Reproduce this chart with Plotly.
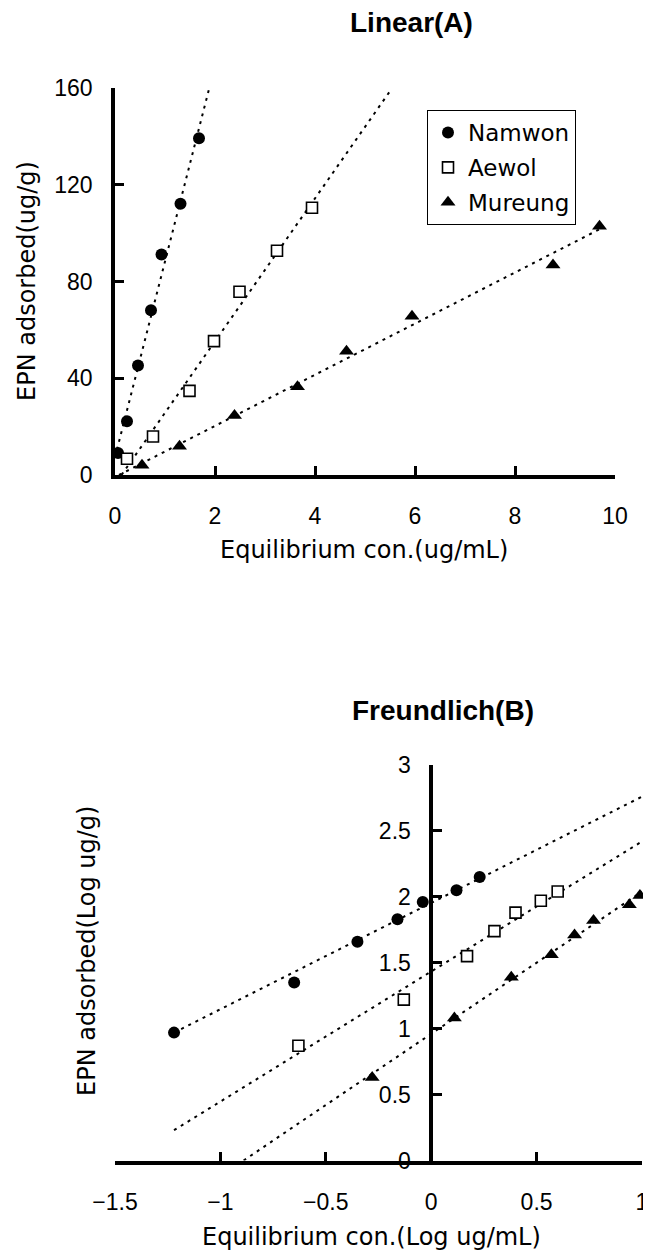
import plotly.graph_objects as go

W, H = 651, 1252
OFF = 8  # the page body adds an 8px margin; positions below are page pixels

# ---------------- data ----------------
series = ["Namwon", "Aewol", "Mureung"]

# Linear (A): equilibrium concentration (ug/mL) vs EPN adsorbed (ug/g)
lin_namwon_x = [0.06, 0.24, 0.46, 0.72, 0.93, 1.31, 1.68]
lin_namwon_y = [9.1, 22.2, 45.3, 68.2, 91.2, 112.2, 139.3]
lin_aewol_x = [0.24, 0.76, 1.49, 1.98, 2.49, 3.24, 3.94]
lin_aewol_y = [6.7, 15.9, 34.8, 55.4, 75.8, 92.8, 110.6]
lin_mureung_x = [0.54, 1.29, 2.39, 3.65, 4.63, 5.94, 8.76, 9.69]
lin_mureung_y = [4.0, 11.9, 24.6, 36.5, 51.2, 65.7, 86.9, 102.9]

# fitted (dotted) lines, end points
lin_fit_namwon_x = [0.0, 1.884]
lin_fit_namwon_y = [7.3, 160.0]
lin_fit_aewol_x = [0.13, 5.54]
lin_fit_aewol_y = [0.0, 160.0]
lin_fit_mureung_x = [0.08, 9.75]
lin_fit_mureung_y = [0.0, 102.3]

# Freundlich (B): log equilibrium concentration vs log EPN adsorbed
fr_namwon_x = [-1.22, -0.65, -0.35, -0.16, -0.04, 0.12, 0.23]
fr_namwon_y = [0.97, 1.35, 1.66, 1.83, 1.96, 2.05, 2.15]
fr_aewol_x = [-0.63, -0.13, 0.17, 0.30, 0.40, 0.52, 0.60]
fr_aewol_y = [0.87, 1.22, 1.55, 1.74, 1.88, 1.97, 2.04]
fr_mureung_x = [-0.28, 0.11, 0.38, 0.57, 0.68, 0.77, 0.94, 0.99]
fr_mureung_y = [0.63, 1.08, 1.39, 1.56, 1.71, 1.82, 1.94, 2.01]

fr_fit_namwon_x = [-1.22, 1.0]
fr_fit_namwon_y = [0.97, 2.76]
fr_fit_aewol_x = [-1.22, 1.0]
fr_fit_aewol_y = [0.23, 2.42]
fr_fit_mureung_x = [-0.89, 1.0]
fr_fit_mureung_y = [0.0, 2.04]

lin_xticks = [0, 2, 4, 6, 8, 10]
lin_yticks = [0, 40, 80, 120, 160]
fr_xticks = [-1.5, -1, -0.5, 0, 0.5, 1]
fr_yticks = [0, 0.5, 1, 1.5, 2, 2.5, 3]

# ---------------- styles ----------------
marker_styles = {
    "Namwon": dict(symbol="circle", size=12, color="black", line=dict(width=0)),
    "Aewol": dict(symbol="square", size=11, color="white", line=dict(color="black", width=1.6)),
    "Mureung": dict(symbol="triangle-up", size=13, color="black", line=dict(width=0)),
}
fit_line = dict(color="black", width=2, dash="3px,5px")

TICK_FONT = dict(family="Liberation Sans, Arial, sans-serif", size=23, color="black")
TXT_FONT = dict(family="DejaVu Sans, sans-serif", size=24, color="black")
LEG_FONT = dict(family="DejaVu Sans, sans-serif", size=23, color="black")
TITLE_FONT = dict(family="Liberation Sans, Arial, sans-serif", size=28, color="black")


def px_x(p):
    return (p - OFF) / W


def px_y(p):
    return 1 - (p - OFF) / H


fig = go.Figure()

lin_pts = {"Namwon": (lin_namwon_x, lin_namwon_y), "Aewol": (lin_aewol_x, lin_aewol_y),
           "Mureung": (lin_mureung_x, lin_mureung_y)}
lin_fits = {"Namwon": (lin_fit_namwon_x, lin_fit_namwon_y), "Aewol": (lin_fit_aewol_x, lin_fit_aewol_y),
            "Mureung": (lin_fit_mureung_x, lin_fit_mureung_y)}
fr_pts = {"Namwon": (fr_namwon_x, fr_namwon_y), "Aewol": (fr_aewol_x, fr_aewol_y),
          "Mureung": (fr_mureung_x, fr_mureung_y)}
fr_fits = {"Namwon": (fr_fit_namwon_x, fr_fit_namwon_y), "Aewol": (fr_fit_aewol_x, fr_fit_aewol_y),
           "Mureung": (fr_fit_mureung_x, fr_fit_mureung_y)}

for s in series:
    fx, fy = lin_fits[s]
    fig.add_trace(go.Scatter(x=fx, y=fy, mode="lines", line=fit_line,
                             showlegend=False, xaxis="x", yaxis="y", hoverinfo="skip"))
    fx, fy = fr_fits[s]
    fig.add_trace(go.Scatter(x=fx, y=fy, mode="lines", line=fit_line,
                             showlegend=False, xaxis="x2", yaxis="y2", hoverinfo="skip"))

for s in series:
    x, y = lin_pts[s]
    fig.add_trace(go.Scatter(x=x, y=y, mode="markers", name=s, marker=marker_styles[s],
                             legendgroup=s, showlegend=True, cliponaxis=False,
                             xaxis="x", yaxis="y"))
    x, y = fr_pts[s]
    fig.add_trace(go.Scatter(x=x, y=y, mode="markers", name=s, marker=marker_styles[s],
                             legendgroup=s, showlegend=False, cliponaxis=False,
                             xaxis="x2", yaxis="y2"))

axis_common = dict(showline=True, linecolor="black", linewidth=3.5,
                   ticks="inside", ticklen=9, tickwidth=3, tickcolor="black",
                   showgrid=False, zeroline=False, tickfont=TICK_FONT,
                   automargin=False, fixedrange=True, layer="above traces")

# bottom panel geometry; the y axis crosses at x = 0
fr_xrange = [-1.5, 1.0]
fr_xdom = [px_x(115), px_x(642)]
fr_ypos = fr_xdom[0] + (0 - fr_xrange[0]) / (fr_xrange[1] - fr_xrange[0]) * (fr_xdom[1] - fr_xdom[0])

fig.update_layout(
    template="none",
    width=W, height=H, autosize=False,
    margin=dict(l=0, r=0, t=0, b=0, pad=0, autoexpand=False),
    paper_bgcolor="white", plot_bgcolor="white",
    xaxis=dict(domain=[px_x(115), px_x(615)], range=[0, 10], tickvals=lin_xticks,
               anchor="y", ticklabelstandoff=18, **axis_common),
    yaxis=dict(domain=[px_y(475), px_y(88.3)], range=[0, 160], tickvals=lin_yticks,
               anchor="x", ticklabelstandoff=14, **axis_common),
    xaxis2=dict(domain=fr_xdom, range=fr_xrange, tickvals=fr_xticks,
                anchor="y2", ticklabelstandoff=18, **axis_common),
    yaxis2=dict(domain=[px_y(1160.5), px_y(765)], range=[0, 3], tickvals=fr_yticks,
                anchor="free", position=fr_ypos, ticklabelstandoff=14, **axis_common),
    legend=dict(x=px_x(427), y=px_y(110), xanchor="left", yanchor="top",
                bgcolor="white", bordercolor="black", borderwidth=1,
                font=LEG_FONT, itemwidth=30, traceorder="grouped", tracegroupgap=2),
    annotations=[
        dict(text="<b>Linear(A)</b>", x=px_x(411), y=px_y(23), xref="paper", yref="paper",
             showarrow=False, xanchor="center", yanchor="middle", font=TITLE_FONT),
        dict(text="<b>Freundlich(B)</b>", x=px_x(443), y=px_y(710), xref="paper", yref="paper",
             showarrow=False, xanchor="center", yanchor="middle", font=TITLE_FONT),
        dict(text="Equilibrium con.(ug/mL)", x=px_x(364), y=px_y(550), xref="paper", yref="paper",
             showarrow=False, xanchor="center", yanchor="middle", font=TXT_FONT),
        dict(text="EPN adsorbed(ug/g)", x=px_x(27), y=px_y(281), xref="paper", yref="paper",
             showarrow=False, xanchor="center", yanchor="middle", textangle=-90, font=TXT_FONT),
        dict(text="Equilibrium con.(Log ug/mL)", x=px_x(371), y=px_y(1237), xref="paper", yref="paper",
             showarrow=False, xanchor="center", yanchor="middle", font=TXT_FONT),
        dict(text="EPN adsorbed(Log ug/g)", x=px_x(87), y=px_y(951), xref="paper", yref="paper",
             showarrow=False, xanchor="center", yanchor="middle", textangle=-90, font=TXT_FONT),
    ],
)

fig.write_html("out.html")
